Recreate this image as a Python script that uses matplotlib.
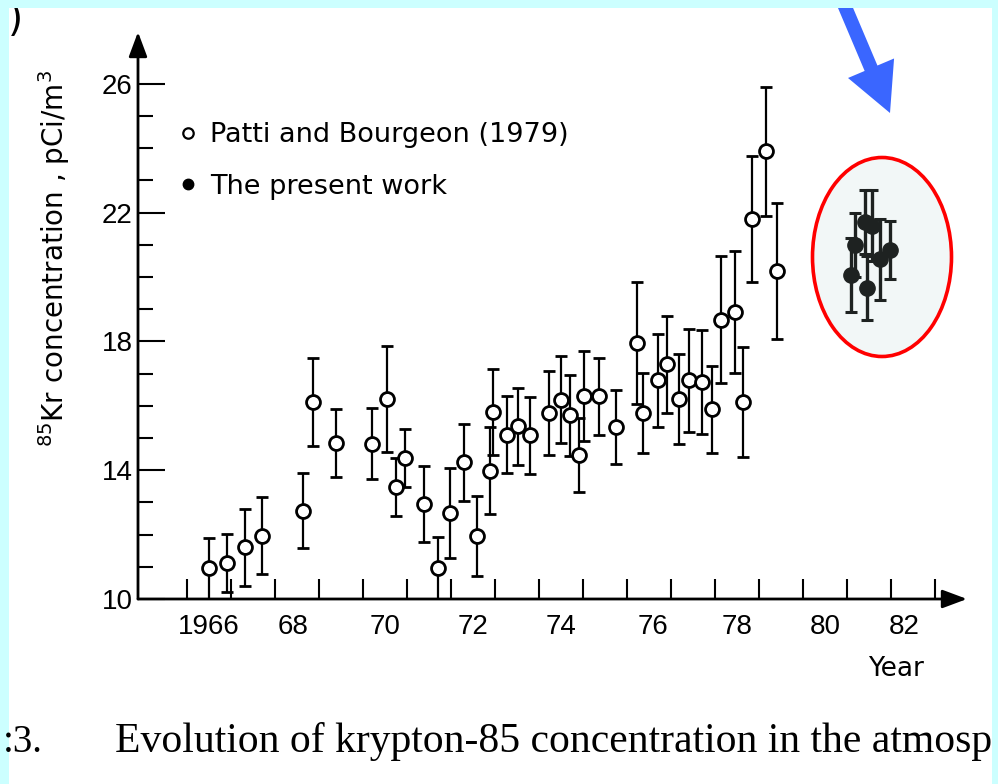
import numpy as np
import matplotlib
matplotlib.use("Agg")
import matplotlib.pyplot as plt
from matplotlib.lines import Line2D
from matplotlib.patches import Ellipse, Rectangle

# Patti and Bourgeon (1979): year, concentration (pCi/m3), error
patti_year = [1966.51, 1966.90, 1967.32, 1967.70, 1968.63, 1968.86, 1969.39,
              1970.20, 1970.55, 1970.74, 1970.96, 1971.39, 1971.71, 1971.98,
              1972.30, 1972.58, 1972.89, 1972.96, 1973.27, 1973.53, 1973.80,
              1974.23, 1974.50, 1974.70, 1974.92, 1975.03, 1975.37, 1975.75,
              1976.23, 1976.37, 1976.71, 1976.92, 1977.19, 1977.42, 1977.70,
              1977.94, 1978.14, 1978.45, 1978.64, 1978.85, 1979.17, 1979.42]
patti_conc = [10.96, 11.11, 11.60, 11.97, 12.74, 16.12, 14.85,
              14.82, 16.22, 13.47, 14.37, 12.96, 10.96, 12.67,
              14.25, 11.96, 13.99, 15.80, 15.10, 15.36, 15.08,
              15.78, 16.19, 15.70, 14.48, 16.30, 16.30, 15.34,
              17.95, 15.78, 16.79, 17.29, 16.22, 16.79, 16.74,
              15.89, 18.68, 18.92, 16.12, 21.80, 23.90, 20.19]
patti_err = [0.95, 0.90, 1.20, 1.20, 1.17, 1.38, 1.05,
             1.10, 1.64, 0.90, 0.90, 1.18, 0.97, 1.40,
             1.20, 1.24, 1.35, 1.33, 1.20, 1.20, 1.20,
             1.30, 1.35, 1.25, 1.15, 1.40, 1.20, 1.15,
             1.90, 1.23, 1.45, 1.50, 1.40, 1.60, 1.60,
             1.35, 1.97, 1.90, 1.70, 1.97, 2.00, 2.10]

# the present work
present_year = [1981.10, 1981.18, 1981.40, 1981.45, 1981.57, 1981.75, 1981.98]
present_conc = [20.05, 21.00, 21.70, 19.65, 21.60, 20.55, 20.84]
present_err = [1.15, 1.00, 1.00, 1.00, 1.10, 1.25, 0.90]

year_ticks = list(range(1966, 1984))
year_labels = ["1966", "68", "70", "72", "74", "76", "78", "80", "82"]
label_years = [1966.5, 1968.4, 1970.5, 1972.5, 1974.5, 1976.6, 1978.5, 1980.5, 1982.3]
conc_ticks = [10, 14, 18, 22, 26]

W, H = 998, 784
fig = plt.figure(figsize=(W / 100, H / 100), dpi=100)
fig.patch.set_facecolor("white")

ax = fig.add_axes([138 / W, 185 / H, (967 - 138) / W, (599 - 32) / H])
ax.set_xlim(1964.886, 1983.727)
ax.set_ylim(10, 27.61)
for s in ax.spines.values():
    s.set_visible(False)

# axis lines with arrow heads
arrow_kw = dict(arrowstyle="-|>,head_length=0.75,head_width=0.28",
                lw=2.0, color="black", mutation_scale=20, shrinkA=0, shrinkB=0)
ax.annotate("", xy=(0, 1), xytext=(0, 0), xycoords="axes fraction",
            arrowprops=arrow_kw, annotation_clip=False)
ax.annotate("", xy=(1, 0), xytext=(0, 0), xycoords="axes fraction",
            arrowprops=arrow_kw, annotation_clip=False)

tick_font = dict(family="Liberation Sans", size=20)

ax.set_yticks(conc_ticks)
ax.set_yticklabels([str(v) for v in conc_ticks], fontdict=tick_font)
ax.set_yticks(np.arange(10, 27), minor=True)
ax.tick_params(axis="y", which="major", direction="in", length=19.4, width=1.5, pad=4)
ax.tick_params(axis="y", which="minor", direction="in", length=10.8, width=1.5)

ax.set_xticks(label_years)
ax.set_xticklabels(year_labels, fontdict=tick_font)
ax.set_xticks(year_ticks, minor=True)
ax.tick_params(axis="x", which="major", length=0, pad=11)
ax.tick_params(axis="x", which="minor", direction="in", length=14.4, width=1.5)

# highlight ellipse around the present-work cluster
ell = Ellipse((882 / W, 1 - 257 / H), 139 / W, 199 / H, transform=fig.transFigure,
              facecolor="#f2f7f7", edgecolor="#ff0000", lw=2.6, zorder=0.5)
ax.add_patch(ell)

ax.errorbar(patti_year, patti_conc, yerr=patti_err, fmt="o", ms=10,
            mfc="white", mec="black", mew=2.0, ecolor="black", elinewidth=1.6,
            capsize=4, capthick=1.6, zorder=3)
ax.errorbar(present_year, present_conc, yerr=present_err, fmt="o", ms=11,
            mfc="#1e2221", mec="#1e2221", ecolor="#1e2221", elinewidth=2.4,
            capsize=4, capthick=2.2, zorder=3)

handles = [
    Line2D([], [], ls="none", marker="o", ms=7.5, mfc="white", mec="black", mew=1.6),
    Line2D([], [], ls="none", marker="o", ms=7.5, mfc="black", mec="black"),
]
ax.legend(handles, ["Patti and Bourgeon (1979)", "The present work"],
          loc="upper left", bbox_to_anchor=(179 / W, 1 - 122 / H),
          bbox_transform=fig.transFigure, frameon=False, borderaxespad=0,
          borderpad=0, handlelength=0.7, handletextpad=0.45, labelspacing=0.95,
          prop=dict(family="DejaVu Sans", size=19.5))

fig.text(54 / W, 1 - 258 / H, r"$^{85}$Kr concentration , pCi/m$^3$",
         rotation=90, ha="center", va="center", fontsize=20, family="DejaVu Sans")
fig.text(896 / W, 1 - 676 / H, "Year", ha="center", va="baseline",
         fontsize=19, family="DejaVu Sans")

fig.text(3 / W, 1 - 752 / H, ":3.", ha="left", va="baseline", fontsize=28,
         family="Liberation Serif", zorder=7)
fig.text(115 / W, 1 - 752 / H, "Evolution of krypton-85 concentration in the atmosp",
         ha="left", va="baseline", fontsize=30, family="Liberation Serif", zorder=4)
fig.text(8 / W, 1 - 1 / H, ")", ha="left", va="top", fontsize=28, family="DejaVu Sans")

# cyan frame strips of the screenshot
cyan = "#ccffff"
for x0, y0, w, h in [(0, 0, 9, H), (992, 0, 6, H), (0, H - 8, W, 8)]:
    fig.patches.append(Rectangle((x0 / W, y0 / H), w / W, h / H, transform=fig.transFigure,
                                 facecolor=cyan, edgecolor="none", zorder=5))

# blue arrow pointing at the cluster
ann = ax.annotate("", xy=(890, H - 113), xytext=(843, H - 2),
                  xycoords="figure pixels", textcoords="figure pixels",
                  arrowprops=dict(arrowstyle="simple,head_length=3.5,head_width=3.6,tail_width=1.0",
                                  mutation_scale=10, color="#3a66ff", lw=0,
                                  shrinkA=0, shrinkB=0),
                  annotation_clip=False)
ann.set_zorder(6)

fig.savefig("out.png", dpi=100)
